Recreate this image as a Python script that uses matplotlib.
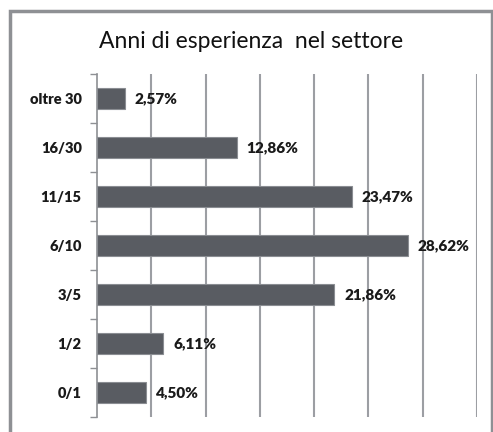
import numpy as np
import matplotlib.pyplot as plt
from matplotlib.patches import Rectangle

# data
categories = ['0/1', '1/2', '3/5', '6/10', '11/15', '16/30', 'oltre 30']
values = [4.50, 6.11, 21.86, 28.62, 23.47, 12.86, 2.57]
labels = ['4,50%', '6,11%', '21,86%', '28,62%', '23,47%', '12,86%', '2,57%']
title = 'Anni di esperienza  nel settore'

W, H = 493, 432
fig = plt.figure(figsize=(W / 100, H / 100), dpi=100)
plt.rcParams['font.family'] = ['Lato', 'DejaVu Sans']

# outer frame of the chart area
fig.patches.append(Rectangle((10 / W, -0.05), 482 / W, 1 - 11 / H + 0.05, transform=fig.transFigure,
                             fill=False, edgecolor='#8e9094', linewidth=2.5))

ax = fig.add_axes([97 / W, 1 - 417 / H, (477 - 97) / W, (417 - 74) / H])
y = np.arange(len(categories))
ax.barh(y, values, height=0.41, color='#595c62', edgecolor='#8a8d92', linewidth=0.8, zorder=3)

ax.set_xlim(0, 35)
ax.set_ylim(-0.5, len(categories) - 0.5)
ax.set_xticks(np.arange(5, 36, 5))
ax.xaxis.grid(True, color='#9c9ea3', linewidth=1.5, zorder=0)
ax.tick_params(axis='x', length=0, labelbottom=False)

ax.set_yticks(y)
ax.set_yticklabels(categories, fontsize=10.5, fontweight='heavy', color='#1a1a1a')
ax.set_yticks(np.arange(-0.5, len(categories), 1), minor=True)
ax.tick_params(axis='y', which='major', length=0, pad=11)
ax.tick_params(axis='y', which='minor', length=5, color='#8e9094', width=1)

for s in ['top', 'right', 'bottom']:
    ax.spines[s].set_visible(False)
ax.spines['left'].set_color('#8e9094')
ax.spines['left'].set_linewidth(1.2)

for yi, v, t in zip(y, values, labels):
    ax.text(v + 0.9, yi, t, va='center', ha='left', fontsize=11, fontweight='heavy', color='#1a1a1a')

fig.text(0.51, 1 - 41 / H, title, ha='center', va='center', fontsize=16.5, color='#111111')

fig.savefig('out.png', dpi=100, facecolor='white')
